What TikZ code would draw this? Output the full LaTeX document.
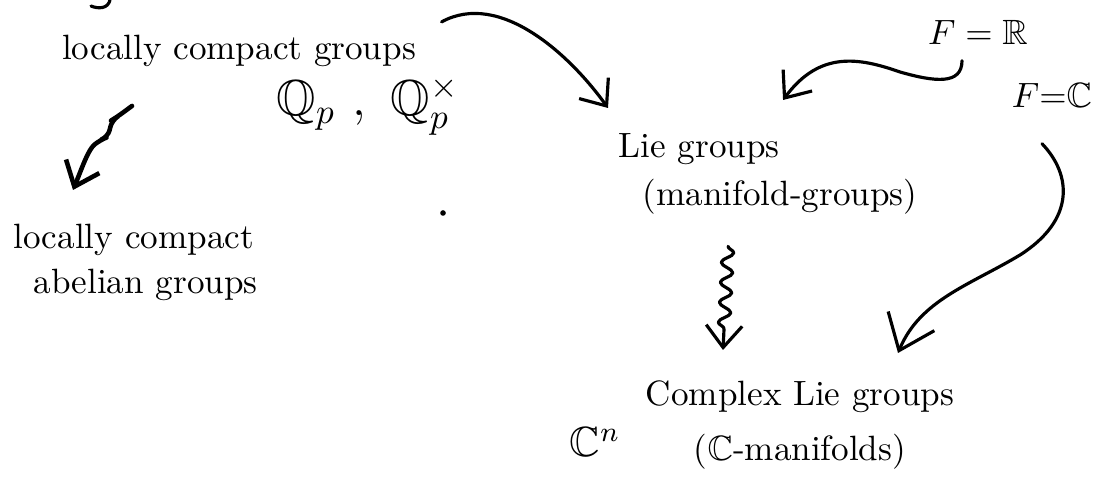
\documentclass[tikz,border=0pt]{standalone}
\usepackage{amsmath}
\usepackage{amsfonts}
\usepackage{tikz}
\usetikzlibrary{calc}
\usetikzlibrary{arrows.meta}
\usetikzlibrary{decorations.pathmorphing}

\tikzset{
  hand/.style={inner sep=0pt, font=\normalsize, align=left},
  ink/.style={line width=0.9pt, line cap=round, line join=round},
}

\begin{document}
\begin{tikzpicture}[>={Straight Barb[length=2.2mm,width=3.6mm]}]
\path[use as bounding box, fill=white] (0,0) rectangle (11,-4.83);

\node[hand, anchor=base] (lcg) at (2.39,-0.60) {locally compact groups};
\node[hand, anchor=base, font=\Large] (qp) at (3.68,-1.16) {$\mathbb{Q}_p\ ,\ \mathbb{Q}_p^{\times}$};
\node[hand, anchor=north west] (lcab) at (0.13,-2.23) {locally compact\\[1pt]\hspace*{0.2cm}abelian groups};
\node[hand, anchor=north west] (lie) at (6.18,-1.33) {Lie groups\\[1.7pt]\hspace*{0.24cm}(manifold-groups)};
\node[hand, anchor=base] (FR) at (9.78,-0.45) {$F = \mathbb{R}$};
\node[hand, anchor=base] (FC) at (10.52,-1.08) {$F{=}\mathbb{C}$};
\node[hand, anchor=north, align=center] (clie) at (8.0,-3.80) {Complex Lie groups\\[3.6pt]($\mathbb{C}$-manifolds)};
\node[hand, anchor=base, font=\large] (Cn) at (5.95,-4.57) {$\mathbb{C}^n$};

\draw[ink] (1.10,0) .. controls (1.08,-0.09) and (0.98,-0.09) .. (0.91,-0.06);
\fill (4.43,-2.13) circle (0.8pt);

\draw[ink,->] ([shift={(0.25,0.13)}]lcg.north east) .. controls (5.0,0.1) and (5.7,-0.55) .. ([shift={(-0.10,0.25)}]lie.north west);
\draw[ink,line width=1.3pt,->,rounded corners=2pt] ([shift={(-1.07,-0.38)}]lcg.south) -- (1.17,-1.17) -- (1.12,-1.20) -- (1.08,-1.37) -- (1.00,-1.40) .. controls (0.88,-1.50) and (0.82,-1.68) .. ([shift={(0.60,0.33)}]lcab.north west);
\draw[ink,->] ([shift={(-0.16,-0.15)}]FR.south) .. controls (9.62,-0.85) and (9.35,-0.82) .. (9.0,-0.72) .. controls (8.6,-0.58) and (8.2,-0.50) .. ([shift={(0.15,0.33)}]lie.north);
\draw[ink,-{Straight Barb[length=3.2mm,width=5mm]}] ([shift={(-0.10,-0.35)}]FC.south) .. controls (10.72,-1.75) and (10.75,-2.2) .. (10.2,-2.55) .. controls (9.7,-2.85) and (9.2,-3.0) .. ([shift={(0.98,0.27)}]clie.north);
\draw[ink,->,decorate,decoration={snake,amplitude=0.6mm,segment length=2mm,post length=1.2mm}] ([shift={(-0.40,-0.31)}]lie.south) -- ([shift={(-0.77,0.30)}]clie.north);
\end{tikzpicture}
\end{document}
